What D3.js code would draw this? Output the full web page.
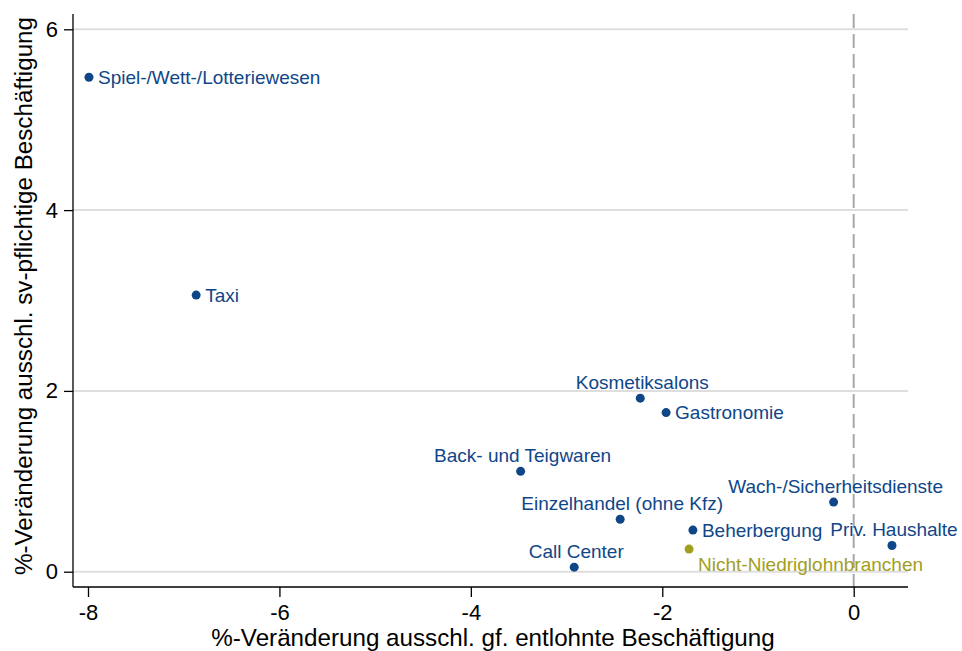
<!DOCTYPE html>
<html lang="de">
<head>
<meta charset="utf-8">
<script src="https://d3js.org/d3.v7.min.js"></script>
<style>
  body { margin: 0; background: #fff; }
  text { font-family: "Liberation Sans", Arial, sans-serif; }
  .grid { stroke: #dedede; stroke-width: 2px; }
  .refline { stroke: #a8a8a8; stroke-width: 2px; stroke-dasharray: 14,6; }
  .frame { stroke: #000; stroke-width: 1.3px; }
</style>
</head>
<body>
<svg width="962" height="651" id="chart"></svg>
<script>
  // DATA
  const branchen = ["Spiel-/Wett-/Lotteriewesen", "Taxi", "Kosmetiksalons", "Gastronomie",
    "Back- und Teigwaren", "Einzelhandel (ohne Kfz)", "Beherbergung", "Wach-/Sicherheitsdienste",
    "Priv. Haushalte", "Call Center", "Nicht-Niedriglohnbranchen"];
  const gfChange = [-7.99, -6.87, -2.23, -1.96, -3.48, -2.44, -1.68, -0.21, 0.40, -2.92, -1.72];
  const svChange = [5.47, 3.06, 1.92, 1.76, 1.11, 0.58, 0.46, 0.77, 0.29, 0.05, 0.25];
  const labelPos = ["r", "r", "t", "r", "t", "t", "r", "t", "t", "t", "br"];
  const gruppe = ["n", "n", "n", "n", "n", "n", "n", "n", "n", "n", "o"];
  const xTicks = [-8, -6, -4, -2, 0];
  const yTicks = [0, 2, 4, 6];

  const svg = d3.select("#chart");
  const plot = { left: 73, right: 908, top: 14, bottom: 587 };
  const colors = { n: "#0f4688", o: "#a29e1e" };
  const fmt = d => String(d); // plain hyphen like the original

  const x = d3.scaleLinear().domain([-8, 0]).range([88, 853.7]);
  const y = d3.scaleLinear().domain([0, 6]).range([571.7, 29.3]);

  // gridlines
  svg.append("g").selectAll("line").data(yTicks).join("line")
    .attr("class", "grid")
    .attr("x1", plot.left).attr("x2", plot.right)
    .attr("y1", d => y(d)).attr("y2", d => y(d));

  // reference line at x = 0
  svg.append("line").attr("class", "refline")
    .attr("x1", x(0)).attr("x2", x(0))
    .attr("y1", plot.top).attr("y2", plot.bottom);

  // axes
  const xAxis = svg.append("g")
    .attr("transform", "translate(0," + plot.bottom + ")")
    .call(d3.axisBottom(x).tickValues(xTicks).tickFormat(fmt).tickSize(10).tickPadding(7).tickSizeOuter(0));
  xAxis.select(".domain").remove();
  xAxis.selectAll("text").style("font-size", "22px").attr("fill", "#000");
  xAxis.selectAll("line").attr("stroke-width", 1.3);

  const yAxis = svg.append("g")
    .attr("transform", "translate(" + plot.left + ",0)")
    .call(d3.axisLeft(y).tickValues(yTicks).tickFormat(fmt).tickSize(9).tickPadding(6).tickSizeOuter(0));
  yAxis.select(".domain").remove();
  yAxis.selectAll("text").style("font-size", "22px").attr("fill", "#000");
  yAxis.selectAll("line").attr("stroke-width", 1.3);

  svg.append("line").attr("class", "frame")
    .attr("x1", plot.left).attr("x2", plot.left)
    .attr("y1", plot.top).attr("y2", plot.bottom);
  svg.append("line").attr("class", "frame")
    .attr("x1", plot.left).attr("x2", plot.right)
    .attr("y1", plot.bottom).attr("y2", plot.bottom);

  // axis titles
  svg.append("text")
    .attr("x", 493).attr("y", 646)
    .attr("text-anchor", "middle").style("font-size", "24.2px")
    .text("%-Veränderung ausschl. gf. entlohnte Beschäftigung");
  svg.append("text")
    .attr("transform", "translate(32," + 296 + ") rotate(-90)")
    .attr("text-anchor", "middle").style("font-size", "24.2px")
    .text("%-Veränderung ausschl. sv-pflichtige Beschäftigung");

  // points and labels
  const pts = branchen.map((b, i) => ({
    name: b, gx: gfChange[i], sv: svChange[i], pos: labelPos[i], grp: gruppe[i]
  }));

  svg.append("g").selectAll("circle").data(pts).join("circle")
    .attr("cx", d => x(d.gx)).attr("cy", d => y(d.sv))
    .attr("r", 4.5).attr("fill", d => colors[d.grp]);

  svg.append("g").selectAll("text").data(pts).join("text")
    .style("font-size", "19px")
    .attr("fill", d => colors[d.grp])
    .attr("x", d => x(d.gx) + (d.pos === "t" ? 2 : 9))
    .attr("y", d => y(d.sv) + (d.pos === "r" ? 6.5 : d.pos === "t" ? -9 : 22))
    .attr("text-anchor", d => d.pos === "t" ? "middle" : "start")
    .text(d => d.name);
</script>
</body>
</html>
